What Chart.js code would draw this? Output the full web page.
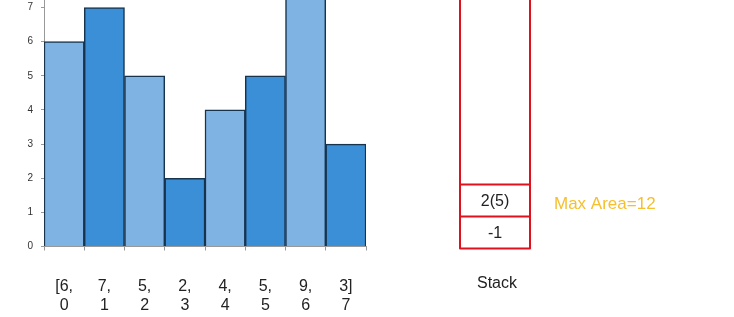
<!DOCTYPE html>
<html>
<head>
<meta charset="utf-8">
<script src="https://cdn.jsdelivr.net/npm/chart.js@4.4.1/dist/chart.umd.min.js"></script>
<style>
  html, body { margin: 0; padding: 0; background: #fff; }
  #wrap { width: 734px; height: 317px; position: relative; }
</style>
</head>
<body>
<div id="wrap"><canvas id="histChart" width="734" height="317"></canvas></div>
<script>
// bar heights and their indices
const heights = [6, 7, 5, 2, 4, 5, 9, 3];
const indices = [0, 1, 2, 3, 4, 5, 6, 7];
const yTicks = [0, 1, 2, 3, 4, 5, 6, 7];
const barColors = ['#7fb3e3', '#3a8fd6'];

// stack contents, bottom to top
const stackItems = ['-1', '2(5)'];
const stackTitle = 'Stack';
const maxArea = 12;

const xLabels = heights.map((h, i) => {
    const prefix = i === 0 ? '[' : '';
    const suffix = i === heights.length - 1 ? ']' : ',';
    return [prefix + h + suffix, String(indices[i])];
});

// draws the stack box + max area note to the right of the plot
const stackPanel = {
    id: 'stackPanel',
    afterDraw(chart) {
        const ctx = chart.ctx;
        const area = chart.chartArea;
        const left = area.right + 94;
        const width = 70;
        const cellH = 32;
        const bottom = area.bottom + 2;

        ctx.save();
        ctx.strokeStyle = '#e0101e';
        ctx.lineWidth = 2;
        ctx.lineJoin = 'round';
        // outer box runs off the top
        ctx.beginPath();
        ctx.moveTo(left, -5);
        ctx.lineTo(left, bottom);
        ctx.lineTo(left + width, bottom);
        ctx.lineTo(left + width, -5);
        ctx.stroke();

        ctx.font = '16px "Liberation Sans", Arial, sans-serif';
        ctx.textAlign = 'center';
        ctx.textBaseline = 'middle';
        stackItems.forEach((item, i) => {
            const yTop = bottom - (i + 1) * cellH;
            ctx.beginPath();
            ctx.moveTo(left, yTop);
            ctx.lineTo(left + width, yTop);
            ctx.stroke();
            ctx.fillStyle = '#222';
            ctx.fillText(item, left + width / 2, yTop + cellH / 2 + 1);
        });

        ctx.fillStyle = '#222';
        ctx.fillText(stackTitle, left + width / 2 + 2, bottom + 35);

        ctx.fillStyle = '#f5bf2e';
        ctx.textAlign = 'left';
        ctx.font = '17px "Liberation Sans", Arial, sans-serif';
        ctx.fillText('Max Area=' + maxArea, left + width + 24, bottom - 44);
        ctx.restore();
    }
};

const noPad = (scale) => {
    scale.paddingTop = 0;
    scale.paddingBottom = 0;
    scale.paddingLeft = 0;
    scale.paddingRight = 0;
};

new Chart(document.getElementById('histChart'), {
    type: 'bar',
    data: {
        labels: xLabels,
        datasets: [{
            data: heights,
            backgroundColor: heights.map((_, i) => barColors[i % 2]),
            borderColor: '#17344f',
            borderWidth: 1.5,
            borderSkipped: 'start',
            categoryPercentage: 1,
            barPercentage: 1
        }]
    },
    options: {
        responsive: false,
        animation: false,
        layout: { padding: { left: 0, right: 368, top: 0, bottom: 0 } },
        plugins: {
            legend: { display: false },
            tooltip: { enabled: false }
        },
        scales: {
            x: {
                afterFit: (scale) => { noPad(scale); scale.height = 70.5; },
                grid: { display: true, drawOnChartArea: false, tickLength: 4, color: '#999', offset: true },
                border: { display: true, color: '#999', width: 1 },
                ticks: {
                    color: '#222',
                    padding: 26,
                    maxRotation: 0,
                    autoSkip: false,
                    font: { family: '"Liberation Sans", Arial, sans-serif', size: 16, lineHeight: 1.2 }
                }
            },
            y: {
                min: 0,
                max: 7.22,
                afterBuildTicks: (scale) => {
                    scale.ticks = yTicks.map(v => ({ value: v }));
                },
                afterFit: (scale) => { noPad(scale); scale.width = 44; },
                grid: { display: true, drawOnChartArea: false, tickLength: 3, color: '#999' },
                border: { display: true, color: '#999', width: 1 },
                ticks: {
                    color: '#333',
                    padding: 8,
                    font: { family: '"Liberation Sans", Arial, sans-serif', size: 10 }
                }
            }
        }
    },
    plugins: [stackPanel]
});
</script>
</body>
</html>
